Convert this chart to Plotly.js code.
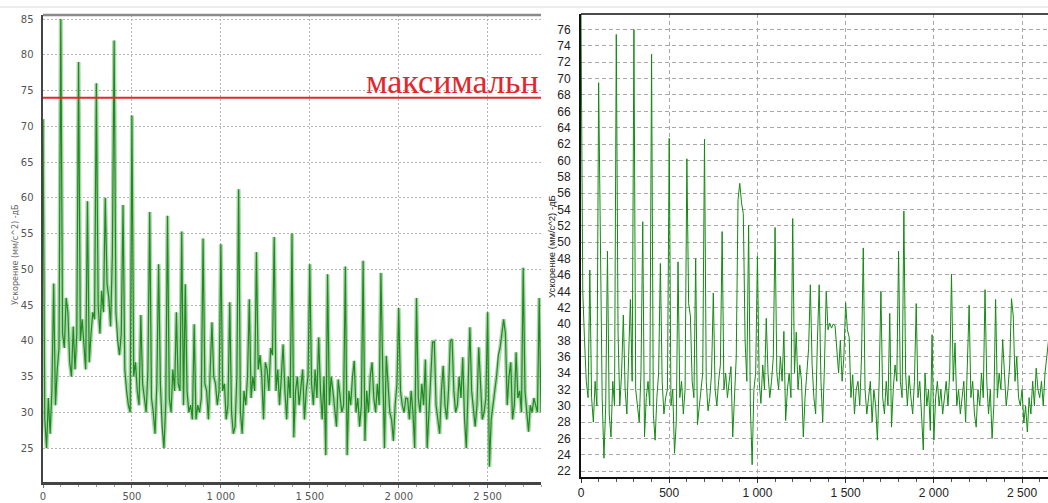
<!DOCTYPE html>
<html>
<head>
<meta charset="utf-8">
<script src="https://cdn.plot.ly/plotly-3.0.1.min.js"></script>
<style>html,body{margin:0;padding:0;background:#fff;}#chart{width:1048px;height:503px;}</style>
</head>
<body>
<div id="chart"></div>
<script>
// ---------- DATA ----------
const freqStep = 10; // Hz between readings
// Left spectrum (level, dB), every 10 Hz from 0 to 2800
const leftLevel = [
 71, 29, 25, 32, 27, 33, 48, 31, 36, 39,
 85, 41, 39, 46, 44, 37, 35, 42, 36, 41,
 79, 40, 43, 39, 36, 59.5, 37, 41, 44, 43,
 76, 45, 41, 47, 44, 60, 48, 46, 42, 52,
 82, 44, 40, 38, 41, 59, 36, 33, 31, 30,
 71.5, 35, 37, 33, 31, 43.6, 34, 32, 30, 36,
 58, 32, 30, 27, 34, 50.7, 34, 28, 25, 31,
 57.5, 32, 30, 36, 33, 44, 34, 33, 55.3, 31,
 47.9, 33, 30, 31, 29, 42.3, 29, 31, 30, 32,
 54.3, 34, 33, 29, 36, 42.6, 35, 34, 31, 33,
 53.5, 33, 34, 29, 31, 45.4, 30, 27, 28, 35,
 61.2, 30, 27, 33, 31, 35, 45.8, 32, 35, 33,
 52.4, 36, 38, 35, 29, 37, 36, 33, 39, 38,
 54.5, 33, 36, 31, 35, 39.5, 33, 29, 35, 32,
 55, 26.5, 33, 35, 31, 34, 36, 29, 33, 35,
 50.7, 34, 31, 36, 32, 40.5, 33, 29, 35, 24,
 49.3, 31, 35, 33, 30, 28, 34.6, 32, 30, 31,
 50.4, 24, 33, 31, 35, 37.2, 30, 32, 28, 31,
 51.2, 26, 33, 30, 35, 37, 32, 30, 34, 31,
 49.5, 36, 25, 37.9, 33, 30, 29, 26, 31, 34,
 44.6, 33, 31, 30, 32, 31.9, 29, 33, 30, 25,
 46, 32, 30, 34, 31, 37.4, 25, 30, 33, 39.8,
 39.9, 31, 29, 27, 33, 36.5, 31, 29, 33, 40,
 40.2, 33, 30, 31, 35, 32, 37.7, 29, 25, 33,
 41.9, 33, 30, 28, 31, 39.1, 34, 29, 30, 32,
 44, 22.4, 29, 31, 33, 35, 38, 39, 41, 43,
 41, 31, 35, 37, 29, 31, 38.4, 32, 33, 30,
 50.2, 33, 30, 27.3, 31, 30, 32, 31, 30, 46,
 30
];
// Right spectrum (level, dB), every 10 Hz from 0 to 2650
const rightLevel = [
 78, 44, 38, 33, 31, 46.6, 31, 28, 33, 30,
 69.5, 49.5, 31, 23.6, 30, 48.9, 29, 26.2, 33, 30,
 75.4, 38.9, 30, 34, 41.1, 32, 29, 36, 43, 33,
 76, 32, 30, 28, 34, 52.5, 26.2, 31, 33, 30,
 73, 29, 25.8, 31, 34, 47.4, 33, 29, 31, 32,
 62.7, 30, 32, 24.2, 28, 47.6, 31, 33, 29, 32,
 60.2, 42.5, 41, 33, 31, 48, 27.7, 30, 32, 34,
 62.6, 33, 29.4, 31, 34, 43.8, 32, 30, 33, 35,
 51.3, 32, 34, 31, 33, 34.8, 26.2, 31, 36, 55.2,
 57.2, 54.8, 53.5, 38, 33, 52.1, 30, 22.8, 32, 34,
 48.3, 33, 30.3, 35, 32, 40.7, 34, 31, 33, 36,
 51.8, 34, 32, 36, 33, 39.1, 28.2, 32, 34, 31,
 52.9, 34, 39, 32, 35, 33, 26.2, 31, 34, 37,
 44.8, 35, 31, 29, 38, 44.8, 33, 28, 35, 44,
 39.3, 40.1, 39.5, 40, 39.8, 37, 34, 38, 33, 36,
 42.6, 39.3, 38.4, 31, 33.8, 29, 32, 33, 30, 36,
 49.3, 32, 29, 31, 33, 28, 32, 30, 25.8, 33,
 44, 31, 29, 33, 30, 41.3, 27.4, 32, 35, 33,
 48.9, 33, 31, 53.8, 34, 30, 33.7, 31, 29, 33,
 42.5, 31, 33, 29, 24.6, 34, 30, 32, 27, 38.7,
 25.8, 31, 33, 30, 32, 29, 31, 33, 30, 34,
 46.1, 33, 37.7, 30, 32, 29, 31, 33, 28, 34,
 42.3, 31, 33, 29, 27.4, 32, 30, 34, 31, 44.2,
 33, 29, 32, 26, 30, 43, 31, 34, 32, 38.1,
 33, 30, 32, 35, 43.1, 41, 33, 36, 31, 30,
 32, 27.9, 30, 26.8, 31, 29, 33, 30, 34.6, 32,
 31, 33, 30, 34, 36, 38
];
const thresholdLevel = 74;
const thresholdLabel = "максимальн";
const yTitle = "Ускорение (мм/с^2) -дБ";
const xTickVals = [0, 500, 1000, 1500, 2000, 2500];
const xTickLabels = ["0", "500", "1 000", "1 500", "2 000", "2 500"];

const leftFreq = leftLevel.map((_, i) => i * freqStep);
const rightFreq = rightLevel.map((_, i) => i * freqStep);

// ---------- TRACES ----------
const traces = [
  {x: leftFreq, y: leftLevel, xaxis: 'x', yaxis: 'y', type: 'scatter', mode: 'lines',
   line: {color: 'rgba(70,165,70,0.45)', width: 4}, hoverinfo: 'skip'},
  {x: leftFreq, y: leftLevel, xaxis: 'x', yaxis: 'y', type: 'scatter', mode: 'lines',
   line: {color: '#1f8a1f', width: 1.2}},
  {x: rightFreq, y: rightLevel, xaxis: 'x2', yaxis: 'y2', type: 'scatter', mode: 'lines',
   line: {color: '#138a13', width: 1}}
];

const W = 1048, H = 503;
const leftFont = {family: 'DejaVu Sans, sans-serif', size: 10, color: '#555'};
const rightFont = {family: 'Liberation Sans, Arial, sans-serif', size: 12, color: '#222'};

const layout = {
  width: W, height: H,
  margin: {l: 0, r: 0, t: 0, b: 0},
  paper_bgcolor: '#fff', plot_bgcolor: '#fff',
  showlegend: false,
  xaxis: {
    domain: [43 / W, 541 / W], range: [0, 2800], anchor: 'y',
    tickvals: xTickVals, ticktext: xTickLabels,
    showgrid: true, gridcolor: '#b5b5b5', griddash: '2px,2px', gridwidth: 1,
    showline: true, linecolor: '#444', linewidth: 2.5,
    ticks: 'outside', ticklen: 3, tickcolor: '#777',
    minor: {dtick: 100, tick0: 0, ticks: 'outside', ticklen: 2, tickcolor: '#999', showgrid: false},
    tickfont: leftFont, zeroline: false, fixedrange: true
  },
  yaxis: {
    domain: [21 / H, 488 / H], range: [20.26, 85.56], anchor: 'x',
    dtick: 5, tick0: 25,
    showgrid: true, gridcolor: '#b5b5b5', griddash: '2px,2px', gridwidth: 1,
    showline: true, linecolor: '#444', linewidth: 2.5,
    ticks: '', ticklabelstandoff: 5,
    tickfont: leftFont, zeroline: false, fixedrange: true
  },
  xaxis2: {
    domain: [581 / W, 1], range: [0, 2647], anchor: 'y2',
    tickvals: xTickVals, ticktext: xTickLabels,
    showgrid: true, gridcolor: '#a8a8a8', griddash: '4px,3px', gridwidth: 1,
    showline: true, linecolor: '#111', linewidth: 2,
    ticks: 'outside', ticklen: 4, tickcolor: '#333',
    minor: {dtick: 100, tick0: 0, ticks: 'outside', ticklen: 3, tickcolor: '#555', showgrid: false},
    tickfont: rightFont, zeroline: false, fixedrange: true
  },
  yaxis2: {
    domain: [26 / H, 489 / H], range: [21.3, 77.9], anchor: 'x2',
    dtick: 2, tick0: 22,
    showgrid: true, gridcolor: '#a8a8a8', griddash: '4px,3px', gridwidth: 1,
    showline: true, linecolor: '#111', linewidth: 2,
    ticks: '', ticklabelstandoff: 6,
    tickfont: rightFont, zeroline: false, fixedrange: true
  },
  shapes: [
    {type: 'line', xref: 'paper', yref: 'paper', x0: 0, x1: 1, y0: (H - 7) / H, y1: (H - 7) / H,
     line: {color: '#ececec', width: 2}},
    {type: 'line', xref: 'x domain', yref: 'y domain', x0: 0, x1: 1, y0: 1, y1: 1,
     line: {color: '#8a8a8a', width: 2.5}},
    {type: 'line', xref: 'x2 domain', yref: 'y2 domain', x0: 0, x1: 1, y0: 1, y1: 1,
     line: {color: '#111', width: 1.5}},
    {type: 'line', xref: 'x domain', yref: 'y', x0: 0, x1: 1, y0: thresholdLevel, y1: thresholdLevel,
     line: {color: '#e8262b', width: 2}}
  ],
  annotations: [
    {text: thresholdLabel, xref: 'paper', yref: 'y', x: 541 / W, y: thresholdLevel,
     xanchor: 'right', yanchor: 'bottom', yshift: -4, showarrow: false,
     font: {family: 'Liberation Serif, Times New Roman, serif', size: 34, color: '#e3262c'}},
    {text: yTitle, xref: 'paper', yref: 'paper', x: 16 / W, y: (H - 255) / H,
     xanchor: 'center', yanchor: 'middle', textangle: -90, showarrow: false,
     font: {family: 'DejaVu Sans, sans-serif', size: 8, color: '#666'}},
    {text: yTitle, xref: 'paper', yref: 'paper', x: 551 / W, y: (H - 247) / H,
     xanchor: 'center', yanchor: 'middle', textangle: -90, showarrow: false,
     font: {family: 'Liberation Sans, Arial, sans-serif', size: 9.5, color: '#222'}}
  ]
};

Plotly.newPlot('chart', traces, layout, {displayModeBar: false, staticPlot: true});
</script>
</body>
</html>
